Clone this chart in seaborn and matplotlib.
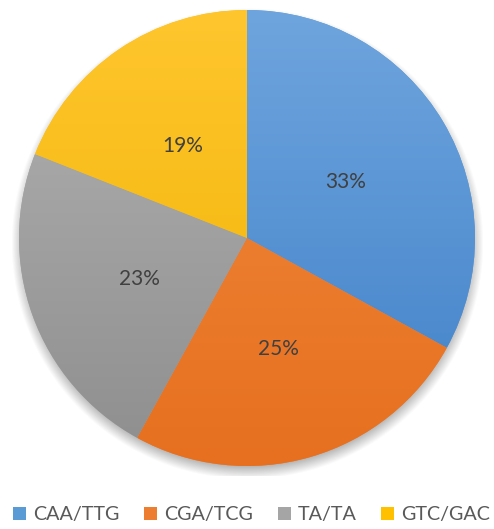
import numpy as np
import matplotlib
matplotlib.use("Agg")
import matplotlib.pyplot as plt
import seaborn as sns
from matplotlib.patches import Patch
from matplotlib.colors import LinearSegmentedColormap

# Dinucleotide step pairs and their share (%)
pairs = ["CAA/TTG", "CGA/TCG", "TA/TA", "GTC/GAC"]
shares = [33, 25, 23, 19]

# Slice colours: base, lighter top and darker bottom for the gradient fill
base_colors = ["#5b9bd5", "#ed7d31", "#a5a5a5", "#ffc000"]
top_colors = ["#6fa5de", "#f28a3f", "#b2b2b2", "#ffc62e"]
bottom_colors = ["#3f80c8", "#e6701f", "#8e8e8e", "#efb200"]

sns.set_theme(style="white")
plt.rcParams["font.family"] = ["Lato", "DejaVu Sans"]

fig = plt.figure(figsize=(4.94, 5.29), dpi=100)
ax = fig.add_axes([0, 53 / 529, 1, 476 / 529])

wedges, texts, autotexts = ax.pie(
    shares,
    startangle=90,
    counterclock=False,
    colors=base_colors,
    autopct=lambda p: f"{p:.0f}%",
    pctdistance=0.5,
    wedgeprops=dict(linewidth=0),
    textprops=dict(color="#404040", fontsize=15),
)

# Soft drop shadow beneath the pie
n = 500
grid = np.linspace(-1.15, 1.15, n)
X, Y = np.meshgrid(grid, grid)
dist = np.hypot(X, Y + 0.025)
blur = 0.035
alpha = np.clip((1 + blur - dist) / (2 * blur), 0, 1) * 0.5
shadow = np.zeros((n, n, 4))
shadow[..., :3] = 0.3
shadow[..., 3] = alpha
ax.imshow(shadow, extent=(-1.15, 1.15, -1.15, 1.15), origin="lower",
          zorder=0.5, interpolation="bilinear")

# Vertical gradient fill clipped to each wedge
ramp = np.linspace(0, 1, 256).reshape(-1, 1)
for w, c_top, c_bot in zip(wedges, top_colors, bottom_colors):
    cmap = LinearSegmentedColormap.from_list("g", [c_bot, c_top])
    im = ax.imshow(ramp, cmap=cmap, extent=(-1, 1, -1, 1), origin="lower",
                   aspect="auto", zorder=1.5, interpolation="bilinear")
    im.set_clip_path(w)

for t in autotexts:
    t.set_zorder(3)
    t.set_verticalalignment("center_baseline")

ax.set_xlim(-247 / 228, 247 / 228)
ax.set_ylim(-238 / 228, 238 / 228)
ax.set_aspect("auto")
ax.axis("off")

handles = [Patch(facecolor=c, edgecolor="none", label=l)
           for c, l in zip(base_colors, pairs)]
fig.legend(handles=handles, loc="center", bbox_to_anchor=(0.509, 0.027),
           ncol=4, frameon=False, fontsize=14.2, handlelength=0.66,
           handleheight=0.66, handletextpad=0.36, columnspacing=1.25,
           labelcolor="#595959", borderpad=0, borderaxespad=0)

fig.savefig("out.png", dpi=100)
